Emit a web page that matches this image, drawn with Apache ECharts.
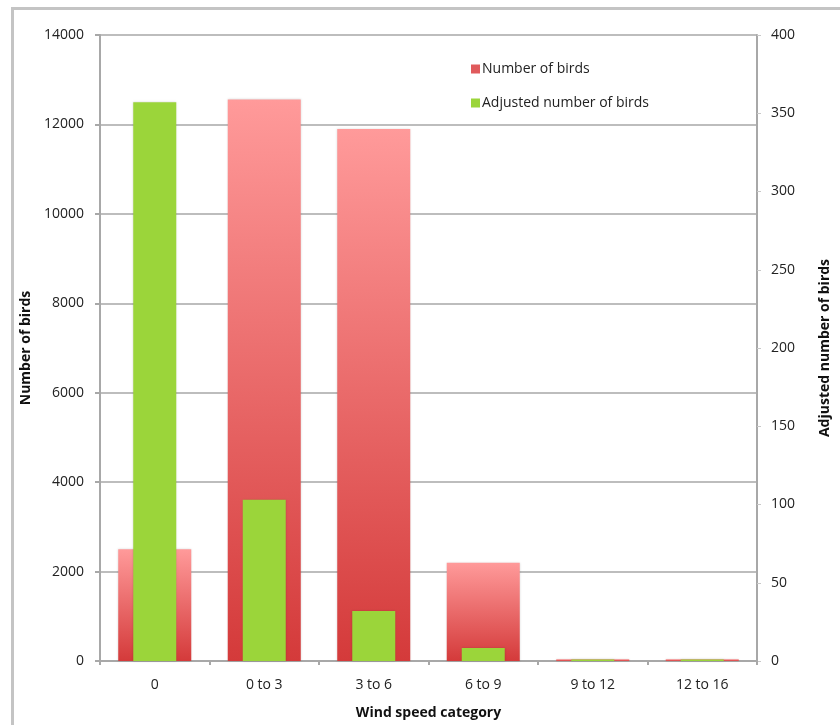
<!DOCTYPE html>
<html>
<head>
<meta charset="utf-8">
<script src="https://cdn.jsdelivr.net/npm/echarts@6/dist/echarts.min.js"></script>
<style>
  html, body { margin: 0; padding: 0; background: #fff; overflow: hidden; width: 840px; height: 725px; }
  #frame { position: absolute; left: 11px; top: 7px; width: 829px; height: 718px;
           border-left: 3px solid #c4c4c4; border-top: 3px solid #c4c4c4; box-sizing: border-box; }
  #chart { position: absolute; left: 0; top: 0; width: 840px; height: 725px; }
</style>
</head>
<body>
<div id="frame"></div>
<div id="chart"></div>
<script>
// Wind speed categories and bird counts
const categories = ['0', '0 to 3', '3 to 6', '6 to 9', '9 to 12', '12 to 16'];
const numberOfBirds = [2500, 12560, 11900, 2200, 40, 40];
const adjustedNumberOfBirds = [357, 103, 32, 8.3, 1, 1];
const leftTicks = { min: 0, max: 14000, interval: 2000 };
const rightTicks = { min: 0, max: 400, interval: 50 };

const FONT = '"Open Sans", Lato, sans-serif';
const SIZE = 14;
const chart = echarts.init(document.getElementById('chart'), null, { renderer: 'canvas' });

// each red bar fades from pink at its top to deep red at its base
const redGradient = new echarts.graphic.LinearGradient(0, 0, 0, 1, [
  { offset: 0, color: '#ff9a9a' },
  { offset: 1, color: '#d43a3a' }
]);

const plainNumber = v => String(v);

chart.setOption({
  animation: false,
  textStyle: { fontFamily: FONT },
  grid: { left: 100, right: 82, top: 35, bottom: 47, containLabel: false },
  legend: {
    orient: 'vertical',
    left: 466,
    top: 57,
    itemWidth: 9,
    itemHeight: 9,
    itemGap: 20,
    icon: 'rect',
    textStyle: { fontFamily: FONT, fontSize: SIZE, color: '#222', padding: [0, 0, 0, -3] },
    data: [
      { name: 'Number of birds', itemStyle: { color: '#e05a5c' } },
      { name: 'Adjusted number of birds', itemStyle: { color: '#9bd53a' } }
    ]
  },
  xAxis: [
    {
      type: 'category',
      data: categories,
      name: 'Wind speed category',
      nameLocation: 'middle',
      nameGap: 45,
      nameTextStyle: { fontFamily: FONT, fontSize: SIZE, fontWeight: 'bold', color: '#111' },
      axisLine: { lineStyle: { color: '#a8a8a8', width: 2 } },
      axisTick: { show: true, length: 4, lineStyle: { color: '#a8a8a8', width: 2 } },
      axisLabel: { fontFamily: FONT, fontSize: SIZE, color: '#222', margin: 17 }
    },
    {
      type: 'category',
      data: categories,
      show: false
    }
  ],
  yAxis: [
    {
      type: 'value',
      min: leftTicks.min, max: leftTicks.max, interval: leftTicks.interval,
      name: 'Number of birds',
      nameLocation: 'middle',
      nameRotate: 90,
      nameGap: 65,
      nameTextStyle: { fontFamily: FONT, fontSize: SIZE, fontWeight: 'bold', color: '#111' },
      axisLine: { show: true, lineStyle: { color: '#a8a8a8', width: 2 } },
      axisTick: { show: true, length: 5, lineStyle: { color: '#a8a8a8', width: 2 } },
      axisLabel: { fontFamily: FONT, fontSize: SIZE, color: '#222', margin: 16, formatter: plainNumber },
      splitLine: { show: true, lineStyle: { color: '#bdbdbd', width: 2 } }
    },
    {
      type: 'value',
      min: rightTicks.min, max: rightTicks.max, interval: rightTicks.interval,
      name: 'Adjusted number of birds',
      nameLocation: 'middle',
      nameRotate: 90,
      nameGap: 61,
      nameTextStyle: { fontFamily: FONT, fontSize: SIZE, fontWeight: 'bold', color: '#111' },
      position: 'right',
      axisLine: { show: true, lineStyle: { color: '#a8a8a8', width: 2 } },
      axisTick: { show: true, length: 4, lineStyle: { color: '#c8c8c8', width: 1 } },
      axisLabel: { fontFamily: FONT, fontSize: SIZE, color: '#222', margin: 14, formatter: plainNumber },
      splitLine: { show: false }
    }
  ],
  series: [
    {
      name: 'Number of birds',
      type: 'bar',
      xAxisIndex: 0,
      yAxisIndex: 0,
      data: numberOfBirds,
      barWidth: 73,
      itemStyle: { color: redGradient, shadowColor: 'rgba(0,0,0,0.15)', shadowBlur: 2 }
    },
    {
      name: 'Adjusted number of birds',
      type: 'bar',
      xAxisIndex: 1,
      yAxisIndex: 1,
      data: adjustedNumberOfBirds,
      barWidth: 43,
      itemStyle: { color: '#9bd53a', shadowColor: 'rgba(0,0,0,0.15)', shadowBlur: 2 }
    }
  ]
});
</script>
</body>
</html>
